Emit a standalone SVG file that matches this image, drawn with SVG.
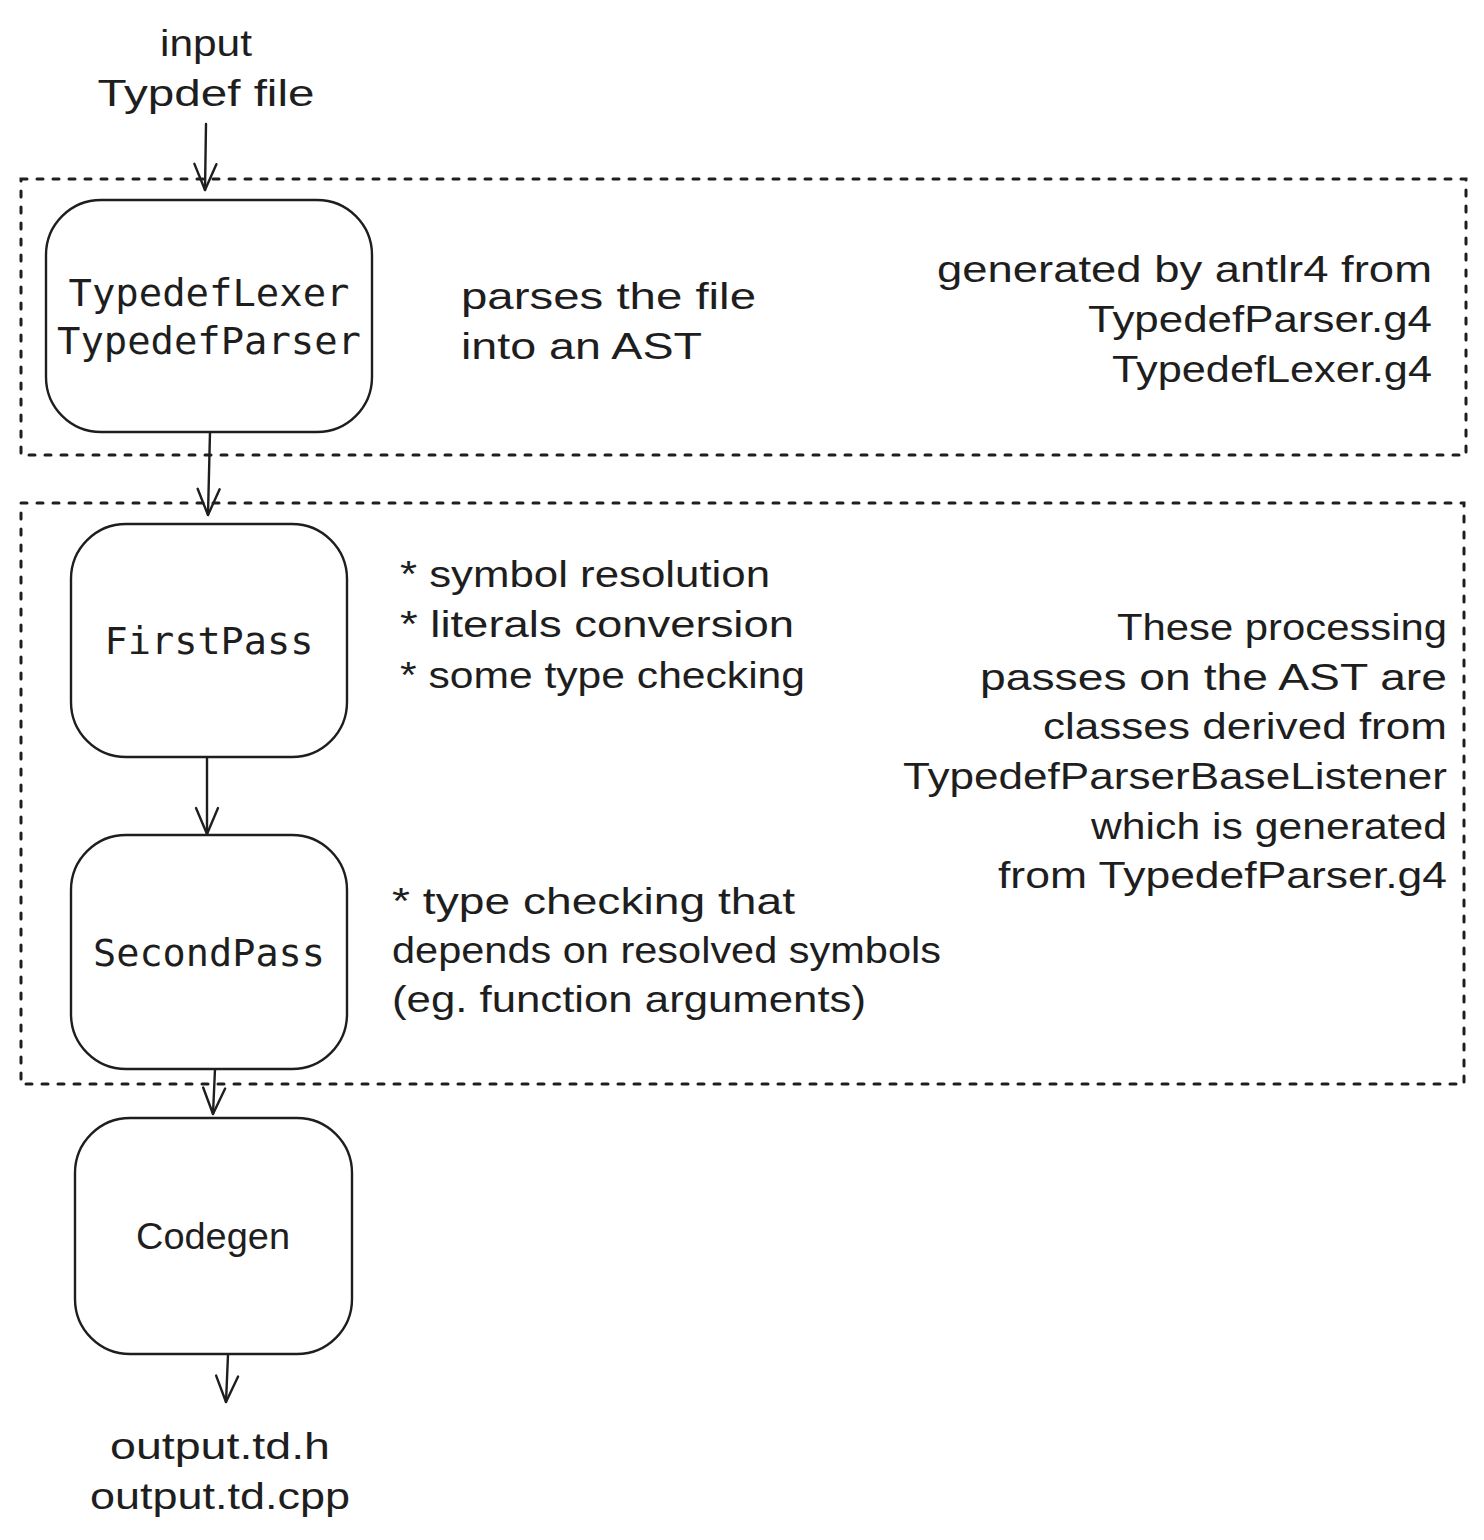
<svg xmlns="http://www.w3.org/2000/svg" width="1484" height="1540" viewBox="0 0 1484 1540">
<style>
.bg{fill:#ffffff}
.frame{fill:none;stroke:#1e1e1e;stroke-width:3;stroke-dasharray:6 10;stroke-linecap:round}
.box{fill:#ffffff;stroke:#1e1e1e;stroke-width:2.4}
.mono{font-family:"DejaVu Sans Mono","Liberation Mono",monospace;font-size:37px;fill:#1e1e1e}
.hand{font-family:"Liberation Sans","Noto Sans",sans-serif;font-size:36px;fill:#1e1e1e}
.conn{fill:none;stroke:#1e1e1e;stroke-width:2.4;stroke-linecap:round}
</style>
<defs>
<marker id="arr" markerUnits="userSpaceOnUse" markerWidth="40" markerHeight="40" refX="0" refY="0" viewBox="-30 -20 40 40" orient="auto">
<path d="M-26,-11 L0,0 L-26,11" fill="none" stroke="#1e1e1e" stroke-width="2.4" stroke-linecap="round" stroke-linejoin="round"/>
</marker>
</defs>
<rect class="bg" x="0" y="0" width="1484" height="1540"/>

<g id="frame-parse">
<rect class="frame" x="21" y="179" width="1445" height="276"/>
</g>
<g id="frame-passes">
<rect class="frame" x="21" y="503" width="1443" height="581"/>
</g>

<g id="connectors">
<path class="conn" d="M206,124 L205,190" marker-end="url(#arr)"/>
<path class="conn" d="M210,432 L208,515" marker-end="url(#arr)"/>
<path class="conn" d="M207,757 L207,834" marker-end="url(#arr)"/>
<path class="conn" d="M215,1069 L213,1114" marker-end="url(#arr)"/>
<path class="conn" d="M228,1355 L226,1402" marker-end="url(#arr)"/>
</g>

<g id="input">
<text class="hand" x="206" y="56" text-anchor="middle" textLength="92" lengthAdjust="spacingAndGlyphs">input</text>
<text class="hand" x="206" y="106" text-anchor="middle" textLength="217" lengthAdjust="spacingAndGlyphs">Typdef file</text>
</g>

<g id="lexer-parser">
<rect class="box" x="46" y="200" width="326" height="232" rx="55" ry="55"/>
<text class="mono" x="209" y="306" text-anchor="middle" textLength="281" lengthAdjust="spacingAndGlyphs">TypedefLexer</text>
<text class="mono" x="209" y="354" text-anchor="middle" textLength="304" lengthAdjust="spacingAndGlyphs">TypedefParser</text>
</g>

<g id="parse-note">
<text class="hand" x="461" y="309" textLength="295" lengthAdjust="spacingAndGlyphs">parses the file</text>
<text class="hand" x="461" y="359" textLength="241" lengthAdjust="spacingAndGlyphs">into an AST</text>
</g>

<g id="antlr-note">
<text class="hand" x="1432" y="282" text-anchor="end" textLength="495" lengthAdjust="spacingAndGlyphs">generated by antlr4 from</text>
<text class="hand" x="1432" y="332" text-anchor="end" textLength="344" lengthAdjust="spacingAndGlyphs">TypedefParser.g4</text>
<text class="hand" x="1432" y="382" text-anchor="end" textLength="320" lengthAdjust="spacingAndGlyphs">TypedefLexer.g4</text>
</g>

<g id="first-pass">
<rect class="box" x="71" y="524" width="276" height="233" rx="55" ry="55"/>
<text class="mono" x="209" y="654" text-anchor="middle" textLength="209" lengthAdjust="spacingAndGlyphs">FirstPass</text>
</g>

<g id="first-pass-note">
<text class="hand" x="400" y="587" textLength="370" lengthAdjust="spacingAndGlyphs">* symbol resolution</text>
<text class="hand" x="400" y="637" textLength="394" lengthAdjust="spacingAndGlyphs">* literals conversion</text>
<text class="hand" x="400" y="688" textLength="405" lengthAdjust="spacingAndGlyphs">* some type checking</text>
</g>

<g id="second-pass">
<rect class="box" x="71" y="835" width="276" height="234" rx="55" ry="55"/>
<text class="mono" x="209" y="966" text-anchor="middle" textLength="232" lengthAdjust="spacingAndGlyphs">SecondPass</text>
</g>

<g id="second-pass-note">
<text class="hand" x="392" y="914" textLength="403" lengthAdjust="spacingAndGlyphs">* type checking that</text>
<text class="hand" x="392" y="963" textLength="549" lengthAdjust="spacingAndGlyphs">depends on resolved symbols</text>
<text class="hand" x="392" y="1012" textLength="474" lengthAdjust="spacingAndGlyphs">(eg. function arguments)</text>
</g>

<g id="passes-note">
<text class="hand" x="1447" y="640" text-anchor="end" textLength="330" lengthAdjust="spacingAndGlyphs">These processing</text>
<text class="hand" x="1447" y="690" text-anchor="end" textLength="467" lengthAdjust="spacingAndGlyphs">passes on the AST are</text>
<text class="hand" x="1447" y="739" text-anchor="end" textLength="404" lengthAdjust="spacingAndGlyphs">classes derived from</text>
<text class="hand" x="1447" y="789" text-anchor="end" textLength="544" lengthAdjust="spacingAndGlyphs">TypedefParserBaseListener</text>
<text class="hand" x="1447" y="839" text-anchor="end" textLength="356" lengthAdjust="spacingAndGlyphs">which is generated</text>
<text class="hand" x="1447" y="888" text-anchor="end" textLength="449" lengthAdjust="spacingAndGlyphs">from TypedefParser.g4</text>
</g>

<g id="codegen">
<rect class="box" x="75" y="1118" width="277" height="236" rx="55" ry="55"/>
<text class="hand" x="213" y="1249" text-anchor="middle" textLength="154" lengthAdjust="spacingAndGlyphs">Codegen</text>
</g>

<g id="output">
<text class="hand" x="220" y="1459" text-anchor="middle" textLength="220" lengthAdjust="spacingAndGlyphs">output.td.h</text>
<text class="hand" x="220" y="1509" text-anchor="middle" textLength="260" lengthAdjust="spacingAndGlyphs">output.td.cpp</text>
</g>
</svg>
